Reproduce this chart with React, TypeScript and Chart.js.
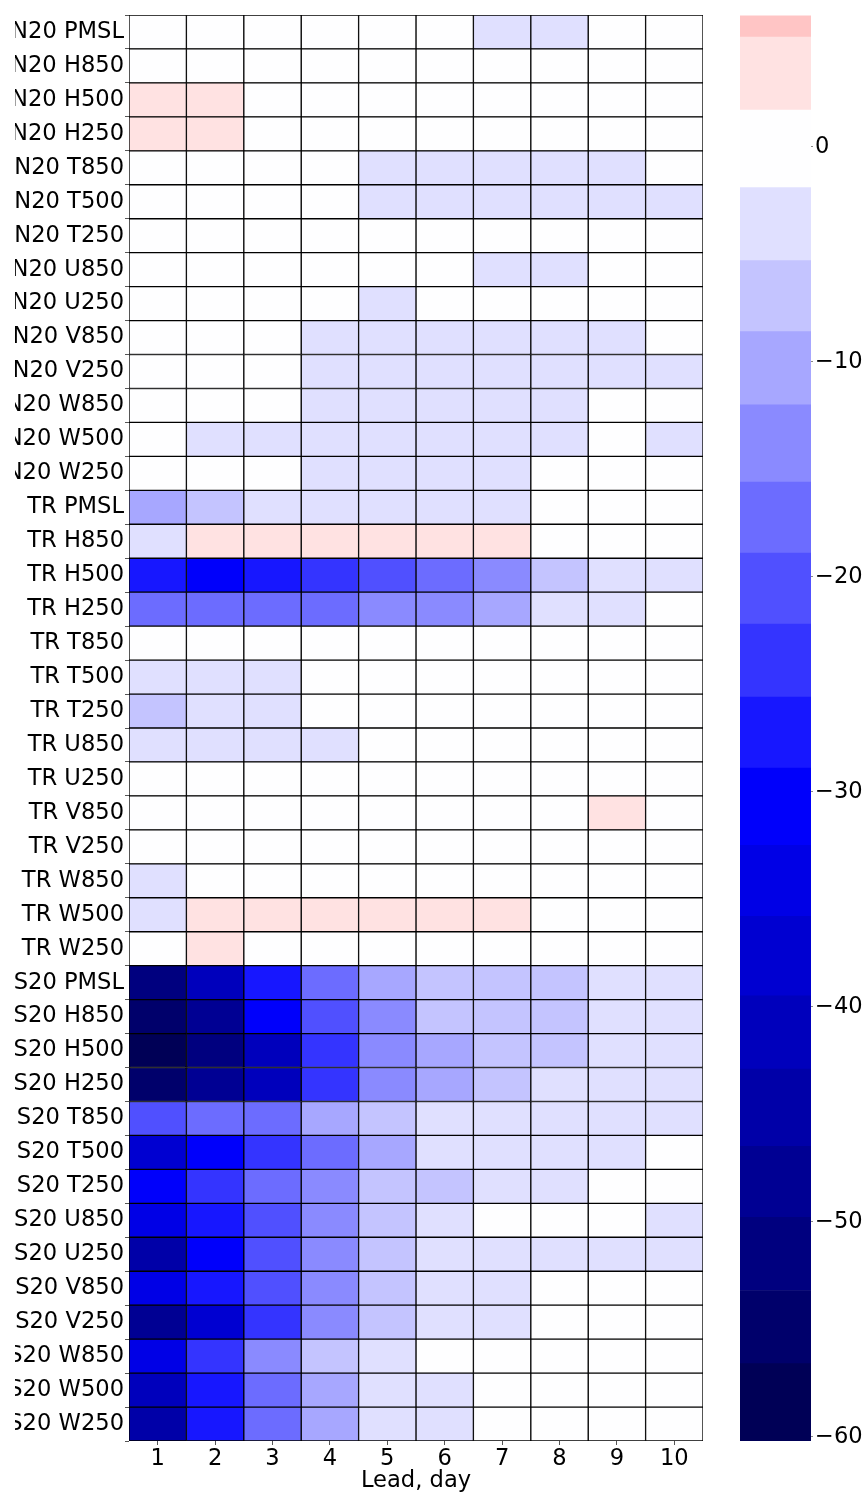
import { useEffect, useRef } from 'react';
import { Chart, registerables } from 'chart.js';

Chart.register(...registerables);

// Row groups and variables (rows of the table)
const regions = ['N20', 'TR', 'S20'];
const variables = ['PMSL', 'H850', 'H500', 'H250', 'T850', 'T500', 'T250', 'U850', 'U250', 'V850', 'V250', 'W850', 'W500', 'W250'];
const leadDays = [1, 2, 3, 4, 5, 6, 7, 8, 9, 10];

// Relative change (%) per lead day, one row per variable
const n20Values = [
  [0.3, 0.5, 0.2, -0.4, -0.9, -1.2, -2.4, -2.2, -1.1, -0.6],
  [0.8, 0.9, 0.6, 0.1, -0.5, -0.8, -1.4, -1.3, -0.7, -0.2],
  [2.3, 2.1, 1.2, 0.6, -0.2, -0.7, -1.1, -1.0, -0.6, -0.3],
  [2.6, 2.2, 1.4, 0.8, 0.1, -0.4, -0.9, -0.8, -0.5, -0.2],
  [-0.4, -0.8, -1.2, -1.7, -2.3, -2.6, -2.8, -2.5, -2.1, -1.6],
  [0.2, -0.3, -0.9, -1.5, -2.2, -2.7, -2.9, -2.8, -2.4, -2.1],
  [0.5, 0.2, -0.1, -0.5, -0.9, -1.2, -1.4, -1.3, -1.1, -0.9],
  [-0.2, -0.5, -0.8, -1.1, -1.5, -1.8, -2.1, -2.0, -1.6, -1.2],
  [0.4, 0.1, -0.6, -1.3, -2.0, -1.7, -1.5, -1.4, -1.1, -0.8],
  [-0.5, -1.0, -1.6, -2.2, -2.7, -2.9, -2.8, -2.6, -2.3, -1.8],
  [-0.3, -0.9, -1.5, -2.3, -2.9, -3.1, -3.0, -2.8, -2.5, -2.2],
  [-0.6, -1.2, -1.7, -2.4, -2.8, -2.9, -2.7, -2.3, -1.8, -1.5],
  [-1.4, -2.1, -2.5, -2.9, -3.2, -3.3, -3.1, -2.6, -1.8, -2.0],
  [-0.7, -1.1, -1.6, -2.2, -2.6, -2.7, -2.4, -1.8, -1.5, -1.2],
];

const trValues = [
  [-10.5, -7.2, -4.6, -3.9, -3.4, -2.9, -2.4, -1.7, -1.3, -0.9],
  [-2.2, 2.4, 2.9, 3.2, 3.1, 2.8, 2.2, 1.5, 1.1, 0.8],
  [-27.5, -31.0, -27.8, -24.2, -20.9, -17.6, -13.5, -7.3, -4.2, -3.0],
  [-17.0, -17.8, -17.5, -16.9, -14.2, -13.6, -10.8, -4.5, -2.6, -1.5],
  [-0.4, -0.6, -0.5, -0.3, -0.2, -0.1, 0.1, 0.2, 0.2, 0.3],
  [-4.4, -3.6, -2.6, -1.6, -1.1, -0.8, -0.6, -0.4, -0.3, -0.2],
  [-6.6, -4.3, -3.1, -1.8, -1.2, -0.9, -0.7, -0.5, -0.4, -0.3],
  [-3.8, -3.4, -2.9, -2.1, -1.5, -1.1, -0.8, -0.6, -0.5, -0.4],
  [-1.2, -0.9, -0.7, -0.5, -0.3, -0.2, -0.1, 0.0, 0.1, 0.1],
  [-0.6, -0.3, 0.1, 0.4, 0.7, 0.9, 1.2, 1.5, 1.9, 1.3],
  [-0.8, -0.5, -0.3, -0.1, 0.1, 0.2, 0.3, 0.4, 0.5, 0.4],
  [-2.3, -1.3, -0.8, -0.4, -0.1, 0.2, 0.4, 0.6, 0.7, 0.5],
  [-2.1, 2.0, 2.4, 2.6, 2.5, 2.3, 2.0, 1.6, 1.3, 1.1],
  [-0.9, 1.9, 1.5, 1.2, 1.1, 0.9, 0.8, 0.7, 0.6, 0.5],
];

const s20Values = [
  [-51.8, -41.5, -27.6, -17.2, -10.6, -7.4, -6.8, -6.1, -4.6, -3.7],
  [-55.3, -48.4, -30.9, -21.0, -14.1, -8.0, -7.2, -6.4, -4.9, -3.9],
  [-58.6, -51.2, -40.8, -24.3, -14.6, -10.9, -7.6, -6.0, -4.5, -3.5],
  [-54.2, -47.6, -40.2, -23.5, -13.9, -9.8, -6.5, -5.0, -4.1, -3.3],
  [-20.3, -17.7, -16.4, -10.2, -6.9, -4.8, -4.2, -3.9, -3.4, -2.8],
  [-38.3, -30.2, -23.1, -16.8, -9.4, -5.1, -4.6, -3.8, -2.9, -1.5],
  [-31.4, -24.6, -17.9, -14.3, -8.2, -6.2, -4.4, -3.1, -1.7, -1.2],
  [-34.6, -26.9, -21.2, -13.5, -7.8, -4.3, -1.8, -1.6, -1.4, -2.1],
  [-44.1, -31.8, -20.8, -14.8, -7.0, -4.7, -3.6, -3.2, -2.7, -2.3],
  [-33.8, -26.5, -19.6, -13.2, -7.5, -5.0, -3.5, -1.8, -1.3, -0.9],
  [-48.8, -36.9, -23.7, -14.4, -6.6, -4.4, -2.8, -1.6, -1.2, -0.8],
  [-33.4, -22.6, -13.0, -8.3, -4.0, -1.5, -1.1, -0.8, -0.6, -0.5],
  [-40.5, -26.2, -16.1, -10.1, -4.9, -2.4, -1.4, -1.0, -0.7, -0.5],
  [-43.6, -25.9, -16.6, -9.9, -4.2, -2.2, -1.3, -0.9, -0.6, -0.4],
];

// Discrete colour levels and colour bar ticks
const levels = [-60.2, -56.6, -53.2, -49.8, -46.5, -42.9, -39.5, -35.8, -32.5, -28.9, -25.6, -22.2, -18.9, -15.6, -12.0, -8.6, -5.3, -1.9, 1.7, 5.1, 8.5];
const colorbarTicks = [0, -10, -20, -30, -40, -50, -60];
const colorbarMin = -60.2;
const colorbarMax = 6.1;
const normMin = -60;
const normMax = 60;

const FONT = { family: 'DejaVu Sans', size: 22.6 };

// Diverging blue-white-red colormap
function seismic(v: number): string {
  const t = Math.min(1, Math.max(0, (v - normMin) / (normMax - normMin)));
  let r: number, g: number, b: number;
  if (t < 0.25) {
    r = 0; g = 0; b = 0.3 + 0.7 * (t / 0.25);
  } else if (t < 0.5) {
    r = g = (t - 0.25) / 0.25; b = 1;
  } else if (t < 0.75) {
    r = 1; g = b = 1 - (t - 0.5) / 0.25;
  } else {
    r = 1 - 0.5 * ((t - 0.75) / 0.25); g = b = 0;
  }
  return `rgb(${Math.round(r * 255)},${Math.round(g * 255)},${Math.round(b * 255)})`;
}

function levelColor(v: number): string {
  for (let i = 0; i < levels.length - 1; i++) {
    if (v >= levels[i] && v < levels[i + 1]) return seismic((levels[i] + levels[i + 1]) / 2);
  }
  return v < levels[0] ? seismic(levels[0]) : seismic(levels[levels.length - 1]);
}

const minusLabel = (v: number) => (v < 0 ? '\u2212' + Math.abs(v) : String(v));

export default function App() {
  const heatRef = useRef<HTMLCanvasElement>(null);
  const barRef = useRef<HTMLCanvasElement>(null);

  useEffect(() => {
    const rowLabels = regions.flatMap((r) => variables.map((v) => `${r} ${v}`));
    const grid = [...n20Values, ...trValues, ...s20Values];

    const datasets = leadDays.map((day, c) => ({
      data: rowLabels.map((label, r) => ({ y: label, x: [day - 0.5, day + 0.5], v: grid[r][c] })),
      backgroundColor: grid.map((row) => levelColor(row[c])),
      borderColor: '#000',
      borderWidth: 1,
      borderSkipped: false,
      barPercentage: 1,
      categoryPercentage: 1,
      grouped: false,
    }));

    const heat = new Chart(heatRef.current!, {
      type: 'bar',
      data: { labels: rowLabels, datasets: datasets as any },
      options: {
        indexAxis: 'y',
        responsive: false,
        animation: false,
        layout: { padding: { top: 15, right: 10, left: 0, bottom: 0 } },
        plugins: { legend: { display: false }, tooltip: { enabled: false } },
        scales: {
          x: {
            type: 'linear',
            min: 0.5,
            max: 10.5,
            afterBuildTicks: (s: any) => { s.ticks = leadDays.map((d) => ({ value: d })); },
            afterFit: (s: any) => { s.height = 54; },
            grid: { drawOnChartArea: false, drawTicks: true, tickLength: 4, tickColor: '#555' },
            border: { display: false },
            ticks: { font: FONT, color: '#000', padding: 1, maxRotation: 0, autoSkip: false },
            title: { display: true, text: 'Lead, day', font: FONT, color: '#000', padding: { top: 1, bottom: 0 } },
          },
          y: {
            type: 'category',
            afterFit: (s: any) => { s.width = 114; },
            grid: { drawOnChartArea: false, drawTicks: true, tickLength: 4, tickColor: '#555' },
            border: { display: false },
            ticks: { font: FONT, color: '#000', padding: 1, autoSkip: false },
          },
        },
      },
    });

    const bands = levels.slice(0, -1).map((lo, i) => ({
      data: [[lo, levels[i + 1]]],
      backgroundColor: levelColor((lo + levels[i + 1]) / 2),
      borderWidth: 0,
      barPercentage: 1,
      categoryPercentage: 1,
      grouped: false,
    }));

    const bar = new Chart(barRef.current!, {
      type: 'bar',
      data: { labels: [''], datasets: bands as any },
      options: {
        responsive: false,
        animation: false,
        layout: { padding: { top: 15, left: 10, right: 0, bottom: 54 } },
        plugins: { legend: { display: false }, tooltip: { enabled: false } },
        scales: {
          x: { display: false },
          y: {
            position: 'right',
            min: colorbarMin,
            max: colorbarMax,
            afterBuildTicks: (s: any) => { s.ticks = colorbarTicks.map((v) => ({ value: v })); },
            afterFit: (s: any) => { s.width = 57; },
            grid: { drawOnChartArea: false, drawTicks: true, tickLength: 2, tickColor: '#888' },
            border: { display: false },
            ticks: { font: FONT, color: '#000', padding: 2, callback: (v: any) => minusLabel(Number(v)) },
          },
        },
      },
    });

    return () => {
      heat.destroy();
      bar.destroy();
    };
  }, []);

  return (
    <div style={{ position: 'absolute', left: 0, top: 0, width: 868, height: 1495, background: '#fff', overflow: 'hidden' }}>
      <canvas ref={heatRef} width={698} height={1495} style={{ position: 'absolute', left: 15, top: 0, width: 698, height: 1495 }} />
      <canvas ref={barRef} width={138} height={1495} style={{ position: 'absolute', left: 730, top: 0, width: 138, height: 1495 }} />
    </div>
  );
}
